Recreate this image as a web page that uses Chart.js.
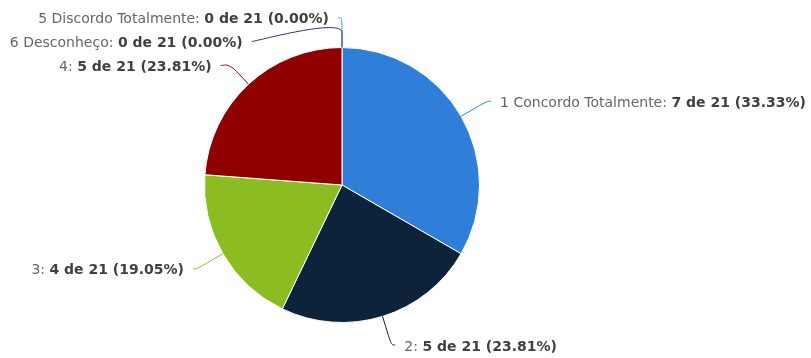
<!DOCTYPE html>
<html>
<head>
<meta charset="utf-8">
<script src="https://cdn.jsdelivr.net/npm/chart.js@4"></script>
<style>
html,body{margin:0;padding:0;background:#fff;}
#wrap{width:811px;height:358px;position:relative;}
</style>
</head>
<body>
<div id="wrap"><canvas id="c" width="811" height="358"></canvas></div>
<script>
const categories = ['1 Concordo Totalmente', '2', '3', '4', '5 Discordo Totalmente', '6 Desconheço'];
const values = [7, 5, 4, 5, 0, 0];
const colors = ['#2f7ed8', '#0d233a', '#8bbc21', '#910000', '#1aadce', '#492970'];

const total = values.reduce((a, b) => a + b, 0);
const FONT = '"DejaVu Sans", Verdana, sans-serif';
const FS = 14;

const outsideLabels = {
  id: 'outsideLabels',
  afterDatasetsDraw(chart) {
    const ctx = chart.ctx;
    const meta = chart.getDatasetMeta(0);
    const items = [];
    meta.data.forEach((arc, i) => {
      const p = arc.getProps(['x', 'y', 'startAngle', 'endAngle', 'outerRadius'], true);
      const mid = (p.startAngle + p.endAngle) / 2;
      const r = p.outerRadius;
      const D = r + 30;
      items.push({
        i, mid, cx: p.x, cy: p.y, r, D,
        left: mid > Math.PI / 2,
        ny: p.y + Math.sin(mid) * D,
        ex: p.x + Math.cos(mid) * r, ey: p.y + Math.sin(mid) * r,
        bx: p.x + Math.cos(mid) * (r + 15), by: p.y + Math.sin(mid) * (r + 15)
      });
    });
    const spacing = 24;
    [true, false].forEach(side => {
      const list = items.filter(t => t.left === side).sort((a, b) => a.ny - b.ny || a.i - b.i);
      let prev = -Infinity;
      list.forEach(t => {
        t.y = Math.max(t.ny, prev + spacing);
        prev = t.y;
      });
    });
    items.forEach(t => {
      const dy = t.y - t.cy;
      const dx = Math.sqrt(Math.max(0, t.D * t.D - dy * dy));
      const lx = t.cx + (t.left ? -dx : dx);
      const sx = lx + (t.left ? -4 : 4);
      ctx.save();
      ctx.strokeStyle = colors[t.i];
      ctx.lineWidth = 1;
      ctx.beginPath();
      ctx.moveTo(sx, t.y);
      ctx.bezierCurveTo(lx, t.y, 2 * t.bx - t.ex, 2 * t.by - t.ey, t.bx, t.by);
      ctx.lineTo(t.ex, t.ey);
      ctx.stroke();
      const name = categories[t.i] + ': ';
      const pct = total ? (values[t.i] / total * 100) : 0;
      const val = values[t.i] + ' de ' + total + ' (' + pct.toFixed(2) + '%)';
      ctx.textBaseline = 'middle';
      ctx.textAlign = 'left';
      ctx.font = 'normal ' + FS + 'px ' + FONT;
      const w1 = ctx.measureText(name).width;
      ctx.font = 'bold ' + FS + 'px ' + FONT;
      const w2 = ctx.measureText(val).width;
      const tx = t.left ? lx - 13 - (w1 + w2) : lx + 13;
      const ty = t.y + 2;
      ctx.font = 'normal ' + FS + 'px ' + FONT;
      ctx.fillStyle = '#666666';
      ctx.fillText(name, tx, ty);
      ctx.font = 'bold ' + FS + 'px ' + FONT;
      ctx.fillStyle = '#404040';
      ctx.fillText(val, tx + w1, ty);
      ctx.restore();
    });
  }
};

new Chart(document.getElementById('c'), {
  type: 'pie',
  data: {
    labels: categories,
    datasets: [{
      data: values,
      backgroundColor: colors,
      borderColor: '#ffffff',
      borderWidth: 1
    }]
  },
  options: {
    responsive: false,
    animation: false,
    layout: { padding: { top: 47, bottom: 35, left: 204, right: 331 } },
    plugins: { legend: { display: false }, tooltip: { enabled: false } }
  },
  plugins: [outsideLabels]
});
</script>
</body>
</html>
